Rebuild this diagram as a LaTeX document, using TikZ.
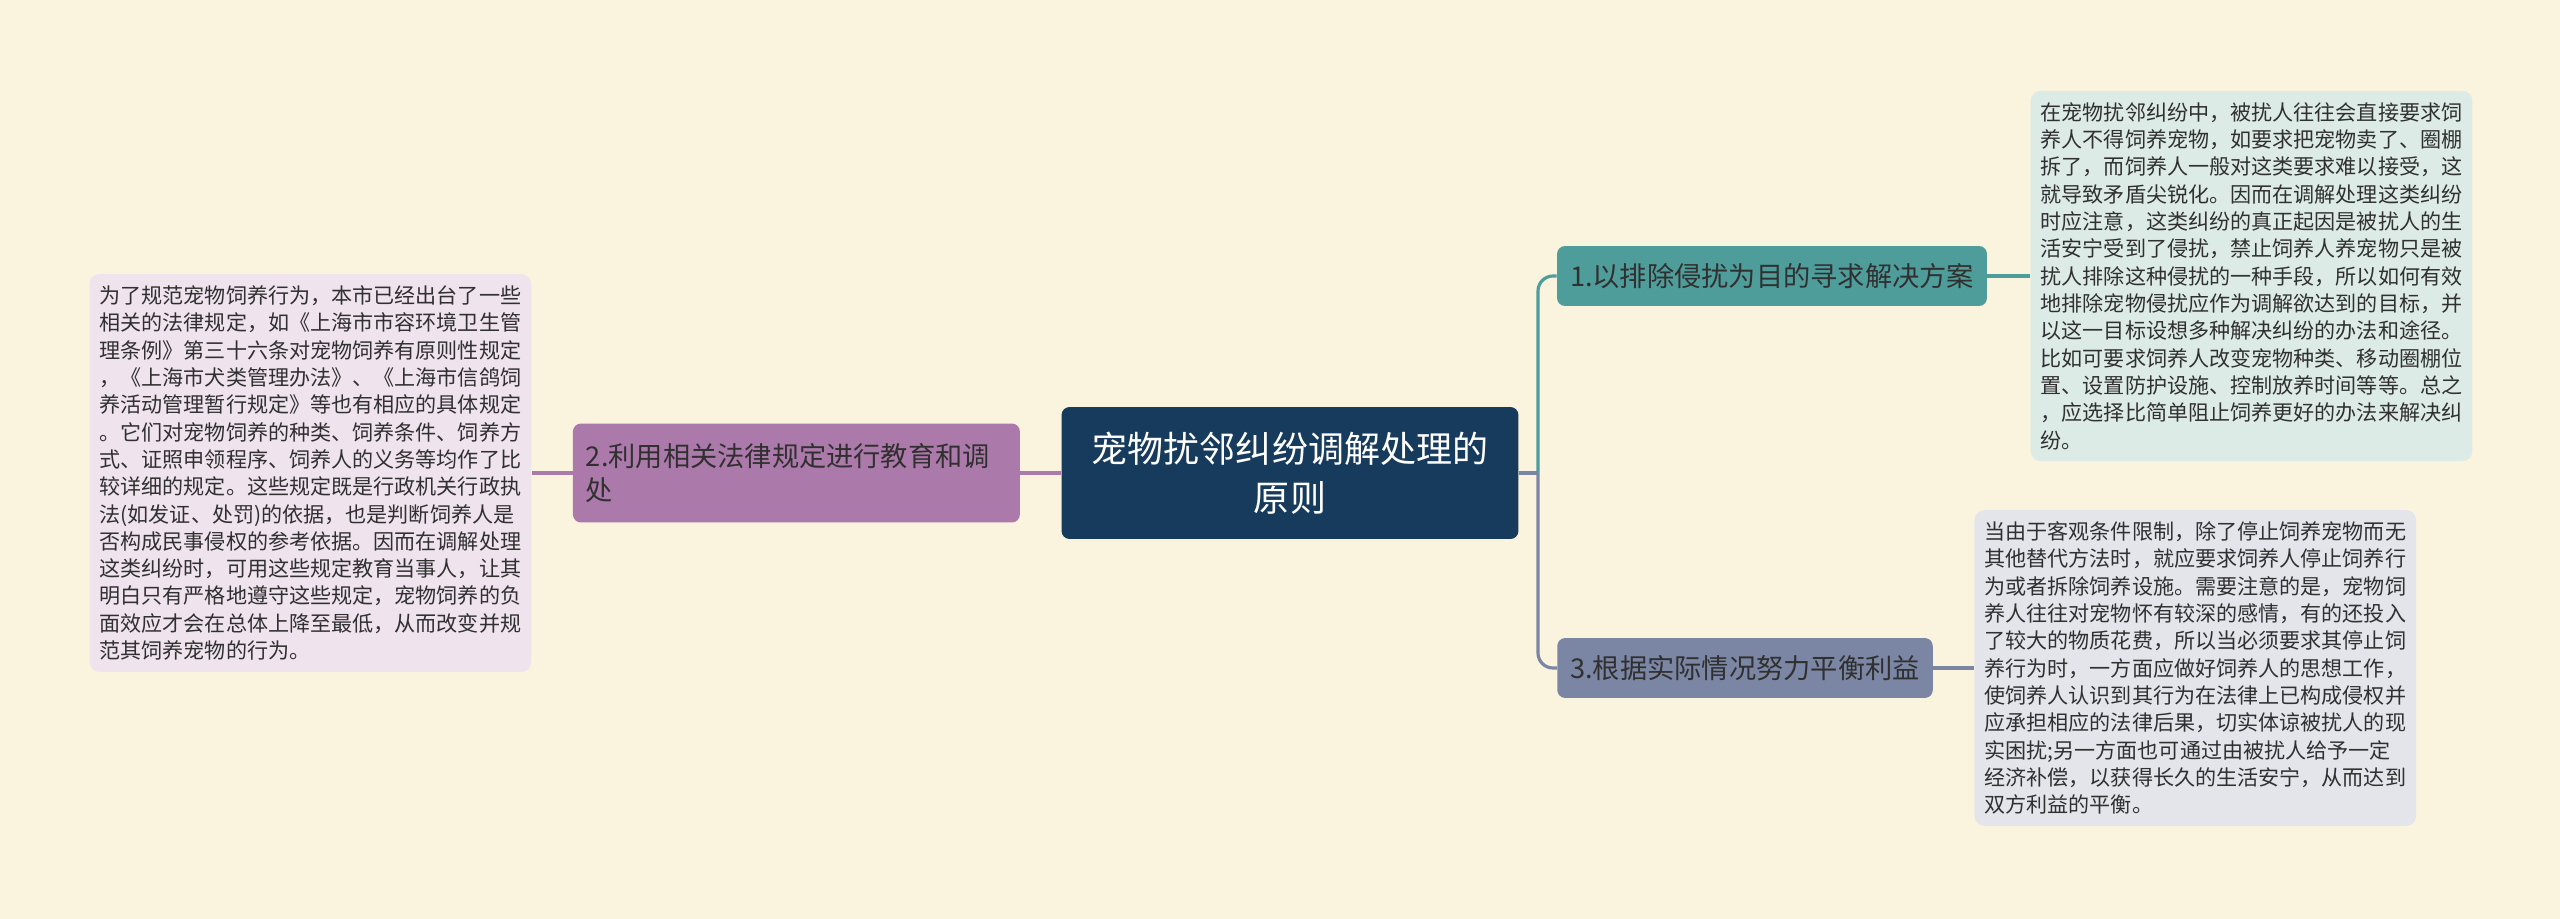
\documentclass[tikz,border=0pt]{standalone}
\usepackage{fontspec}
\setmainfont{Noto Sans CJK SC}
\usetikzlibrary{positioning}
\definecolor{PaperCream}{RGB}{250,244,222}
\definecolor{RootNavy}{RGB}{23,59,92}
\definecolor{TealMid}{RGB}{79,157,155}
\definecolor{SlateMid}{RGB}{122,134,163}
\definecolor{PlumMid}{RGB}{172,122,170}
\definecolor{TealPale}{RGB}{221,235,230}
\definecolor{SlatePale}{RGB}{227,229,235}
\definecolor{PlumPale}{RGB}{239,227,238}
\definecolor{InkGray}{RGB}{48,48,48}
\tikzset{
  root/.style   = {fill=RootNavy, rounded corners=0.16cm, minimum width=9.14cm,
                   minimum height=2.64cm, align=center, text=white,
                   font=\fontsize{20.5pt}{28pt}\selectfont},
  branch/.style = {rounded corners=0.16cm, minimum height=1.2cm, inner xsep=0.26cm,
                   align=left, text=InkGray, font=\fontsize{15.5pt}{19.5pt}\selectfont},
  note/.style   = {rounded corners=0.2cm, inner xsep=0.2cm, inner ysep=0.23cm,
                   align=left, text=InkGray, font=\fontsize{12pt}{15.55pt}\selectfont},
  lnk/.style    = {line width=1.8pt}
}

\begin{document}
\begin{tikzpicture}[x=0.02cm,y=-0.02cm]
\fill[PaperCream] (0,0) rectangle (2560,919);
\useasboundingbox (0,0) rectangle (2560,919);

% centre and main branches
\node[root] (root) at (1290,473) {宠物扰邻纠纷调解处理的\\原则};
\node[branch, fill=TealMid] (n1) at (1772,276) {1.以排除侵扰为目的寻求解决方案};
\node[branch, fill=SlateMid] (n3) at (1745,668) {3.根据实际情况努力平衡利益};
\node[branch, fill=PlumMid, text width=8.42cm, minimum height=1.98cm,
      left=0.82cm of root] (n2) {2.利用相关法律规定进行教育和调\\处};

% notes
\node[note, fill=TealPale, right=0.86cm of n1] (tip1) {在宠物扰邻纠纷中，被扰人往往会直接要求饲\\养人不得饲养宠物，如要求把宠物卖了、圈棚\\拆了，而饲养人一般对这类要求难以接受，这\\就导致矛盾尖锐化。因而在调解处理这类纠纷\\时应注意，这类纠纷的真正起因是被扰人的生\\活安宁受到了侵扰，禁止饲养人养宠物只是被\\扰人排除这种侵扰的一种手段，所以如何有效\\地排除宠物侵扰应作为调解欲达到的目标，并\\以这一目标设想多种解决纠纷的办法和途径。\\比如可要求饲养人改变宠物种类、移动圈棚位\\置、设置防护设施、控制放养时间等等。总之\\，应选择比简单阻止饲养更好的办法来解决纠\\纷。};
\node[note, fill=SlatePale, right=0.82cm of n3] (tip3) {当由于客观条件限制，除了停止饲养宠物而无\\其他替代方法时，就应要求饲养人停止饲养行\\为或者拆除饲养设施。需要注意的是，宠物饲\\养人往往对宠物怀有较深的感情，有的还投入\\了较大的物质花费，所以当必须要求其停止饲\\养行为时，一方面应做好饲养人的思想工作，\\使饲养人认识到其行为在法律上已构成侵权并\\应承担相应的法律后果，切实体谅被扰人的现\\实困扰;另一方面也可通过由被扰人给予一定\\经济补偿，以获得长久的生活安宁，从而达到\\双方利益的平衡。};
\node[note, fill=PlumPale, left=0.82cm of n2] (law) {为了规范宠物饲养行为，本市已经出台了一些\\相关的法律规定，如《上海市市容环境卫生管\\理条例》第三十六条对宠物饲养有原则性规定\\，《上海市犬类管理办法》、《上海市信鸽饲\\养活动管理暂行规定》等也有相应的具体规定\\。它们对宠物饲养的种类、饲养条件、饲养方\\式、证照申领程序、饲养人的义务等均作了比\\较详细的规定。这些规定既是行政机关行政执\\法(如发证、处罚)的依据，也是判断饲养人是\\否构成民事侵权的参考依据。因而在调解处理\\这类纠纷时，可用这些规定教育当事人，让其\\明白只有严格地遵守这些规定，宠物饲养的负\\面效应才会在总体上降至最低，从而改变并规\\范其饲养宠物的行为。};

% connectors
\coordinate (fork) at (1538,473);
\draw[lnk, TealMid] (root.east) -- (fork);
\draw[lnk, TealMid, rounded corners=0.3cm] (fork) |- (n1.west);
\draw[lnk, SlateMid] (root.east) -- (fork);
\draw[lnk, SlateMid, rounded corners=0.3cm] (fork) |- (n3.west);
\draw[lnk, PlumMid] (root.west) -- (n2.east);
\draw[lnk, PlumMid] (n2.west) -- (law.east);
\draw[lnk, TealMid] (n1.east) -- (tip1.west);
\draw[lnk, SlateMid] (n3.east) -- (tip3.west);
\end{tikzpicture}
\end{document}
